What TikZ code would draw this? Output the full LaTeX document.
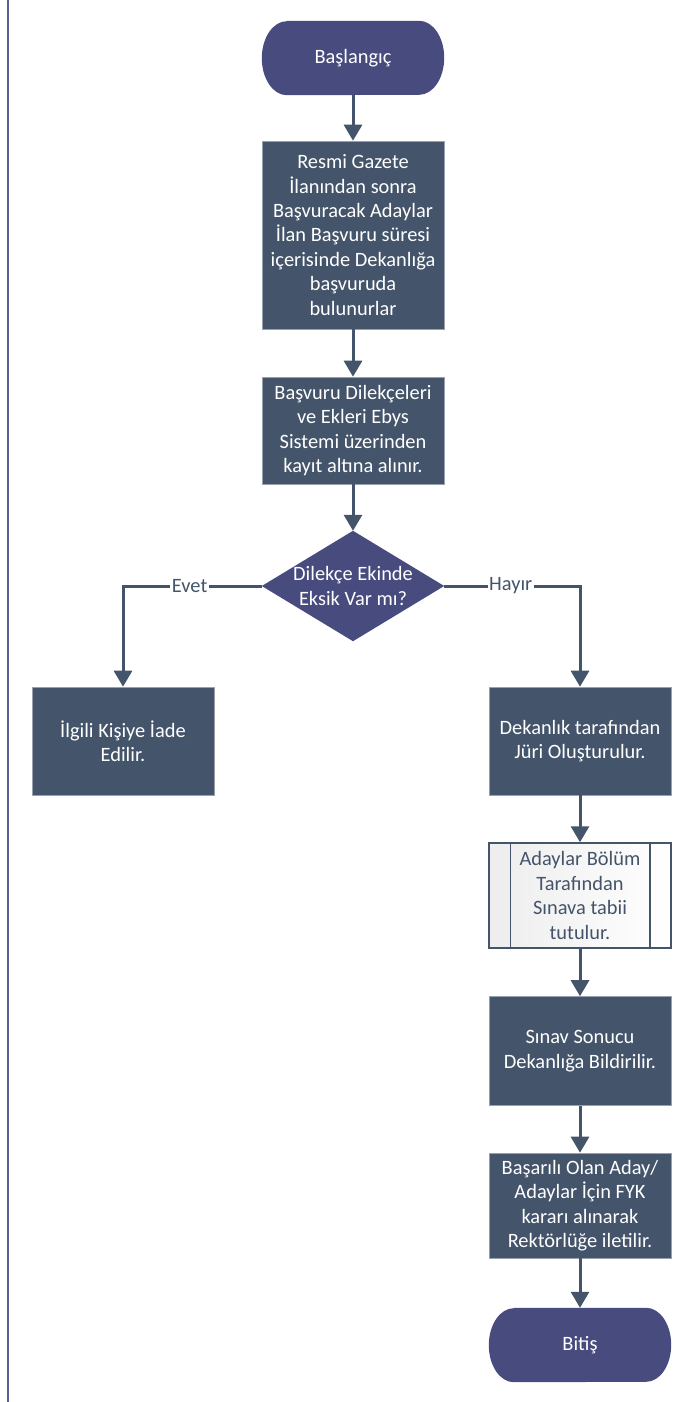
\documentclass[tikz,border=0pt]{standalone}
\usepackage{fontspec}
\setmainfont{Carlito}
\usetikzlibrary{arrows.meta,calc}
\definecolor{slate}{HTML}{44546A}
\definecolor{indigo}{HTML}{474B7D}
\definecolor{pagebar}{HTML}{5A5E92}
\pgfdeclarelayer{background}
\pgfsetlayers{background,main}
\begin{document}
\begin{tikzpicture}[x=1pt,y=-1pt,
  every node/.style={font=\fontsize{20.4}{24.4}\selectfont, align=center, inner sep=0pt},
  procbox/.style={rectangle, fill=slate, draw=slate!55!white, line width=0.6pt, text=white, minimum width=182pt},
  termnode/.style={rectangle, minimum width=182pt, minimum height=74pt, text=white},
  decnode/.style={rectangle, text=white, minimum width=182pt, minimum height=110pt},
  predef/.style={rectangle, left color=gray!14, right color=white, draw=slate, line width=1.5pt, text=slate, minimum width=182pt},
  flow/.style={draw=slate, line width=3pt, -{Triangle[length=16pt,width=18pt]}},
  branchlabel/.style={fill=white, text=slate, inner sep=1.5pt}
]
\useasboundingbox (0,0) rectangle (686,1402);
\draw[pagebar, line width=2.5pt] (8,0) -- (8,1402);

\node[termnode] (start) at (353,58) {Başlangıç};
\node[procbox, minimum height=188pt] (b1) at (353,235) {Resmi Gazete\\İlanından sonra\\Başvuracak Adaylar\\İlan Başvuru süresi\\içerisinde Dekanlığa\\başvuruda\\bulunurlar};
\node[procbox, minimum height=107pt] (b2) at (353,430.5) {Başvuru Dilekçeleri\\ve Ekleri Ebys\\Sistemi üzerinden\\kayıt altına alınır.};
\node[decnode] (dec) at (353,586) {Dilekçe Ekinde\\Eksik Var mı?};
\node[procbox, minimum height=108pt] (left) at (123,741) {İlgili Kişiye İade\\Edilir.};
\node[procbox, minimum height=108pt] (right) at (580,741) {Dekanlık tarafından\\Jüri Oluşturulur.};
\node[predef, minimum height=105pt] (pp) at (580,895.5) {Adaylar Bölüm\\Tarafından\\Sınava tabii\\tutulur.};
\draw[slate, line width=1.5pt] ($(pp.north west)+(22,0)$) -- ($(pp.south west)+(22,0)$);
\draw[slate, line width=1.5pt] ($(pp.north east)+(-22,0)$) -- ($(pp.south east)+(-22,0)$);
\node[procbox, minimum height=109pt] (s1) at (580,1051) {Sınav Sonucu\\Dekanlığa Bildirilir.};
\node[procbox, minimum height=105pt] (s2) at (580,1205.5) {Başarılı Olan Aday/\\Adaylar İçin FYK\\kararı alınarak\\Rektörlüğe iletilir.};
\node[termnode, minimum height=74pt] (end) at (580,1345) {Bitiş};

\begin{pgfonlayer}{background}
\foreach \t in {start,end}{
  \fill[indigo] ($(\t.north west)+(25,0)$) -- ($(\t.north east)+(-25,0)$)
    arc[start angle=90,end angle=-90,x radius=25pt,y radius=37pt]
    -- ($(\t.south west)+(25,0)$)
    arc[start angle=-90,end angle=-270,x radius=25pt,y radius=37pt] -- cycle;
}
\fill[indigo] (dec.north) -- (dec.east) -- (dec.south) -- (dec.west) -- cycle;
\end{pgfonlayer}

\draw[flow] (start.south) -- (b1.north);
\draw[flow] (b1.south) -- (b2.north);
\draw[flow] (b2.south) -- (dec.north);
\draw[flow] (dec.west) -| node[branchlabel, pos=0.26] {Evet} (left.north);
\draw[flow] (dec.east) -| node[branchlabel, pos=0.245] {Hayır} (right.north);
\draw[flow] (right.south) -- (pp.north);
\draw[flow] (pp.south) -- (s1.north);
\draw[flow] (s1.south) -- (s2.north);
\draw[flow] (s2.south) -- (end.north);
\end{tikzpicture}
\end{document}
